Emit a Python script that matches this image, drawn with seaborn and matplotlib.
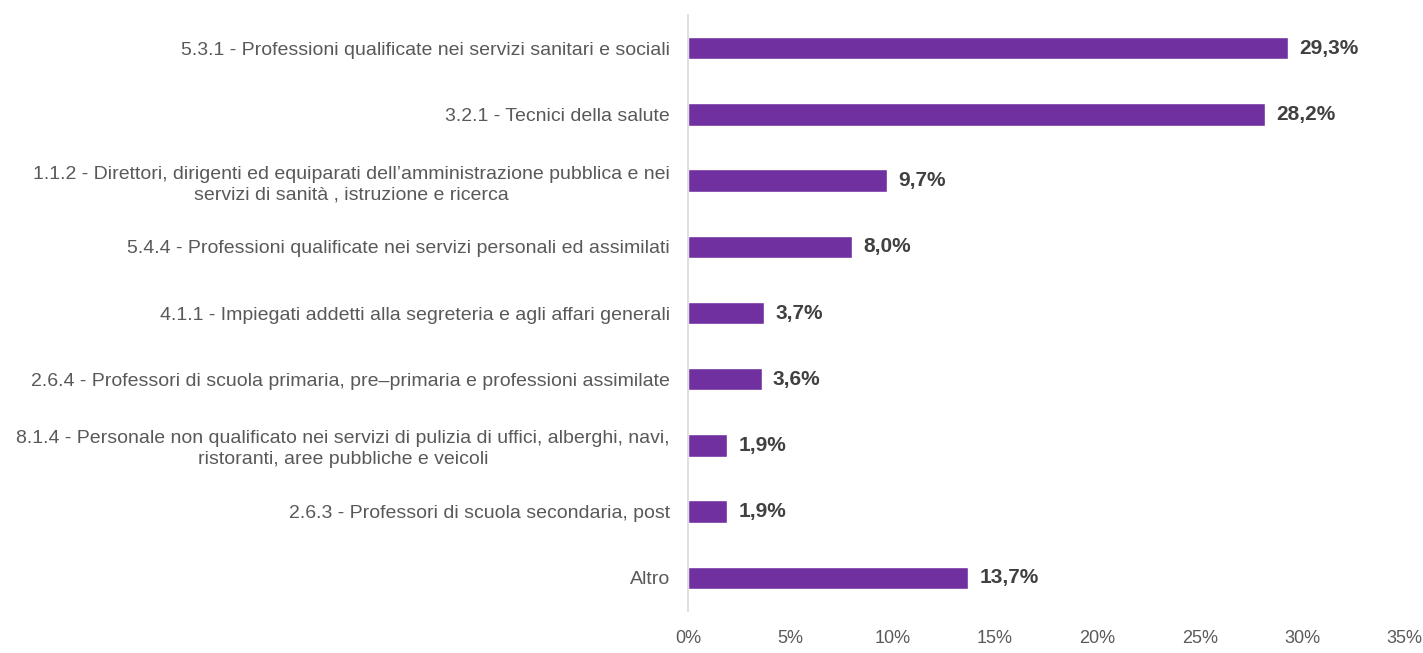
import matplotlib
matplotlib.use('Agg')
import matplotlib.pyplot as plt
import seaborn as sns
import pandas as pd

# ==========================================
# Dati
# ==========================================
categorie = [
    "5.3.1 - Professioni qualificate nei servizi sanitari e sociali",
    "3.2.1 - Tecnici della salute",
    "1.1.2 - Direttori, dirigenti ed equiparati dell\u2019amministrazione pubblica e nei\nservizi di sanità , istruzione e ricerca",
    "5.4.4 - Professioni qualificate nei servizi personali ed assimilati",
    "4.1.1 - Impiegati addetti alla segreteria e agli affari generali",
    "2.6.4 - Professori di scuola primaria, pre\u2013primaria e professioni assimilate",
    "8.1.4 - Personale non qualificato nei servizi di pulizia di uffici, alberghi, navi,\nristoranti, aree pubbliche e veicoli",
    "2.6.3 - Professori di scuola secondaria, post",
    "Altro",
]
valori = [29.3, 28.2, 9.7, 8.0, 3.7, 3.6, 1.9, 1.9, 13.7]
x_ticks = [0, 5, 10, 15, 20, 25, 30, 35]

df = pd.DataFrame({'categoria': categorie, 'valore': valori})

# ==========================================
# Grafico
# ==========================================
sns.set_style('white')
plt.rcParams['font.family'] = ['Liberation Sans Narrow', 'Liberation Sans', 'DejaVu Sans']

fig = plt.figure(figsize=(14.23, 6.53), dpi=100)
ax = fig.add_axes([0.4835, 0.0643, 0.5035, 0.9127])

sns.barplot(data=df, x='valore', y='categoria', color='#7030A0',
            width=0.34, saturation=1, ax=ax)

for i, v in enumerate(valori):
    ax.text(v + 0.55, i, f"{v:.1f}%".replace('.', ','), va='center', ha='left',
            fontsize=15, fontweight='bold', color='#404040')

ax.set_xlim(0, 35)
ax.set_ylim(8.5, -0.5)
ax.set_xticks(x_ticks)
ax.set_xticklabels([f"{t}%" for t in x_ticks], fontsize=13, color='#595959')
ax.tick_params(axis='x', length=0, pad=14)
ax.tick_params(axis='y', length=0, pad=13, labelsize=14, labelcolor='#595959')
for t in ax.get_yticklabels():
    t.set_multialignment('center')
    t.set_linespacing(1.3)

ax.set_xlabel('')
ax.set_ylabel('')
for s in ['top', 'right', 'bottom']:
    ax.spines[s].set_visible(False)
ax.spines['left'].set_color('#D9D9D9')
ax.spines['left'].set_linewidth(1.2)

fig.savefig('out.png', dpi=100)
